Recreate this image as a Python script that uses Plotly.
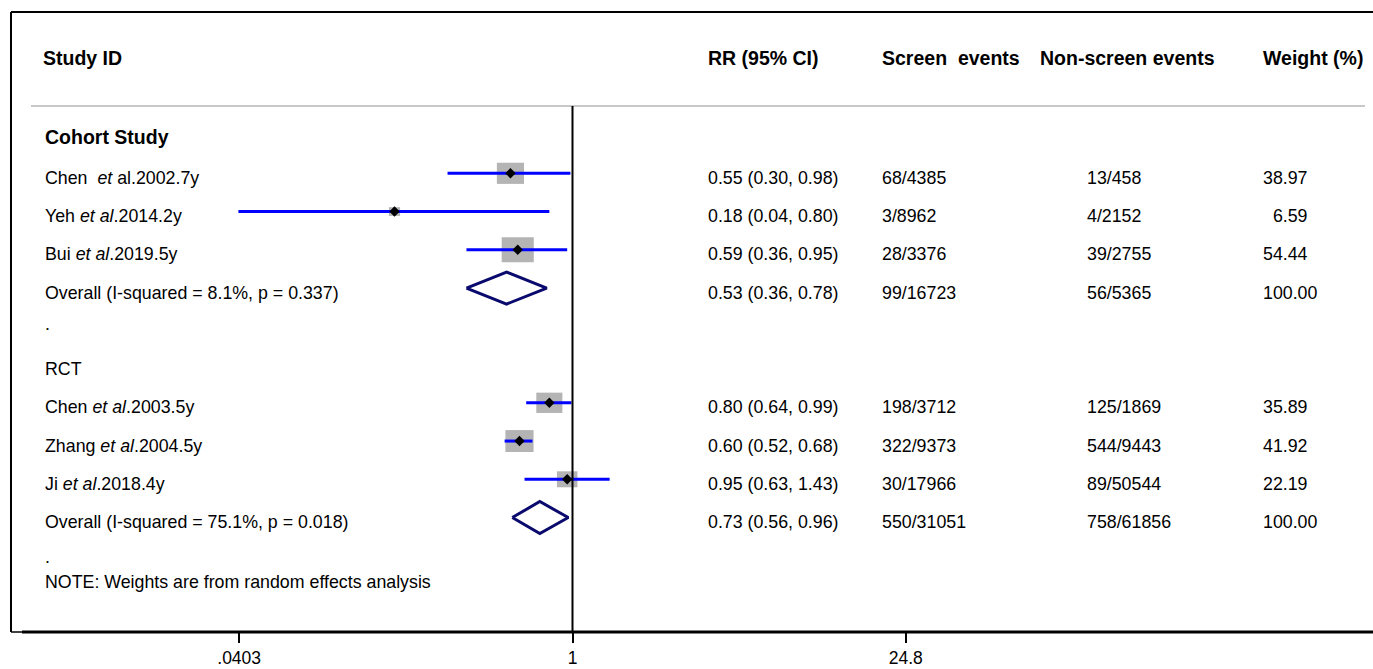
import math
import plotly.graph_objects as go

# ---------------- data ----------------
study_labels = ["Chen\u00a0\u00a0<i>et</i> al.2002.7y", "Yeh <i>et al</i>.2014.2y", "Bui <i>et al</i>.2019.5y",
                "Chen <i>et al</i>.2003.5y", "Zhang <i>et al</i>.2004.5y", "Ji <i>et al</i>.2018.4y"]
study_rr = [0.55, 0.18, 0.59, 0.80, 0.60, 0.95]
study_lo = [0.30, 0.04, 0.36, 0.64, 0.52, 0.63]
study_hi = [0.98, 0.80, 0.95, 0.99, 0.68, 1.43]
study_weight = [38.97, 6.59, 54.44, 35.89, 41.92, 22.19]
study_screen = ["68/4385", "3/8962", "28/3376", "198/3712", "322/9373", "30/17966"]
study_nonscreen = ["13/458", "4/2152", "39/2755", "125/1869", "544/9443", "89/50544"]
study_rows = [1, 2, 3, 7, 8, 9]

overall_labels = ["Overall (I-squared = 8.1%, p = 0.337)", "Overall (I-squared = 75.1%, p = 0.018)"]
overall_rr = [0.53, 0.73]
overall_lo = [0.36, 0.56]
overall_hi = [0.78, 0.96]
overall_screen = ["99/16723", "550/31051"]
overall_nonscreen = ["56/5365", "758/61856"]
overall_weight = ["100.00", "100.00"]
overall_rows = [4, 10]

group_labels = ["<b>Cohort Study</b>", "RCT"]
group_rows = [-0.07, 6]

tick_vals = [0.0403, 1, 24.8]
tick_text = [".0403", "1", "24.8"]

headers = ["<b>Study ID</b>", "<b>RR (95% CI)</b>", "<b>Screen\u00a0\u00a0events</b>",
           "<b>Non-screen events</b>", "<b>Weight (%)</b>"]

# ---------------- layout geometry ----------------
W, H = 1373, 669
ML, MR, MT, MB = 11, 0, 12, 37
PW = W - ML - MR
PH = H - MT - MB
PPD = 239.0          # px per decade on the log axis
X1PX = 572.5         # pixel position of RR = 1
ROWPX = 38.25        # pixels per row
ROW0PX = 135.05      # pixel y of row 0
xr = [(ML - X1PX) / PPD, (W - MR - X1PX) / PPD]
ytop = (MT - ROW0PX) / ROWPX
ybot = ytop + PH / ROWPX

def px(xpix):
    return (xpix - ML) / PW

FONT = "Liberation Sans, Arial, Helvetica, sans-serif"
FS = 17.8
FSB = 19.5
SHIFT = -4.5
XADJ = -2

fig = go.Figure()

# weight boxes
for r, w, row in zip(study_rr, study_weight, study_rows):
    hw = 4.35 * math.sqrt(w) / 2
    hh = 0.78 * hw
    x0 = r * 10 ** (-hw / PPD)
    x1 = r * 10 ** (hw / PPD)
    y0 = row - hh / ROWPX
    y1 = row + hh / ROWPX
    fig.add_trace(go.Scatter(x=[x0, x1, x1, x0, x0], y=[y0, y0, y1, y1, y0], mode="lines",
                             fill="toself", fillcolor="rgb(180,180,180)", line=dict(width=0),
                             hoverinfo="skip", showlegend=False))

# CI lines
cx, cy = [], []
for lo, hi, row in zip(study_lo, study_hi, study_rows):
    cx += [lo, hi, None]
    cy += [row, row, None]
fig.add_trace(go.Scatter(x=cx, y=cy, mode="lines", line=dict(color="rgb(0,0,255)", width=3),
                         hoverinfo="skip", showlegend=False))

# point estimates
fig.add_trace(go.Scatter(x=study_rr, y=study_rows, mode="markers",
                         marker=dict(symbol="diamond", color="black", size=8, line=dict(width=0)),
                         showlegend=False))

# overall diamonds
DH = 16 / ROWPX
for r, lo, hi, row in zip(overall_rr, overall_lo, overall_hi, overall_rows):
    fig.add_trace(go.Scatter(x=[lo, r, hi, r, lo], y=[row, row - DH, row, row + DH, row], mode="lines",
                             line=dict(color="rgb(10,10,110)", width=3), hoverinfo="skip",
                             showlegend=False))

ann = []
def text(xpix, y, t, size=FS, shift=SHIFT):
    ann.append(dict(x=px(xpix + XADJ), xref="paper", y=y, yref="y", text=t, showarrow=False,
                    xanchor="left", yanchor="middle", yshift=shift,
                    font=dict(family=FONT, size=size, color="black")))

# headers
hy = -2.124
text(43, hy, headers[0], FSB)
text(708, hy, headers[1], FSB)
text(882, hy, headers[2], FSB)
text(1040, hy, headers[3], FSB)
text(1263, hy, headers[4], FSB)

# group labels
text(45, group_rows[0], group_labels[0], FSB)
text(45, group_rows[1], group_labels[1])

# study rows
for lab, r, lo, hi, w, s, n, row in zip(study_labels, study_rr, study_lo, study_hi, study_weight,
                                        study_screen, study_nonscreen, study_rows):
    text(45, row, lab)
    text(708, row, f"{r:.2f} ({lo:.2f}, {hi:.2f})")
    text(882, row, s)
    text(1087, row, n)
    ws = f"{w:.2f}"
    if w < 10:
        ws = "\u00a0\u00a0" + ws
    text(1263, row, ws)

for lab, r, lo, hi, s, n, w, row in zip(overall_labels, overall_rr, overall_lo, overall_hi,
                                        overall_screen, overall_nonscreen, overall_weight, overall_rows):
    text(45, row, lab)
    text(708, row, f"{r:.2f} ({lo:.2f}, {hi:.2f})")
    text(882, row, s)
    text(1087, row, n)
    text(1263, row, w)

text(45, 4.82, ".")
text(45, 10.91, ".")
text(45, 11.57, "NOTE: Weights are from random effects analysis")

shapes = [
    # frame left and top
    dict(type="line", xref="paper", yref="paper", x0=0, x1=0, y0=0, y1=1, line=dict(color="black", width=2)),
    dict(type="line", xref="paper", yref="paper", x0=0, x1=1, y0=1, y1=1, line=dict(color="black", width=2)),
    dict(type="line", xref="paper", yref="paper", x0=0, x1=px(22), y0=0, y1=0, line=dict(color="black", width=1.5)),
    # axis line
    dict(type="line", xref="paper", yref="paper", x0=px(22), x1=1, y0=0, y1=0, line=dict(color="black", width=3)),
    # header separator
    dict(type="line", xref="paper", yref="y", x0=px(31), x1=px(1365), y0=-0.76, y1=-0.76,
         line=dict(color="rgb(200,200,200)", width=2)),
    # null line
    dict(type="line", xref="x", yref="y", x0=1, x1=1, y0=-0.76, y1=ybot, line=dict(color="black", width=2),
         layer="above"),
]

fig.update_layout(
    width=W, height=H, margin=dict(l=ML, r=MR, t=MT, b=MB),
    paper_bgcolor="white", plot_bgcolor="white",
    xaxis=dict(type="log", range=xr, tickvals=tick_vals, ticktext=tick_text, ticks="outside",
               ticklen=10, tickwidth=2, tickcolor="black", showgrid=False, zeroline=False, showline=False,
               tickfont=dict(family=FONT, size=17.5, color="black"), fixedrange=True),
    yaxis=dict(range=[ybot, ytop], showgrid=False, zeroline=False, showline=False, showticklabels=False,
               ticks="", fixedrange=True),
    annotations=ann, shapes=shapes, showlegend=False,
)

fig.write_html("out.html", config={"displayModeBar": False},
               post_script="document.body.style.margin='0';document.body.style.overflow='hidden';")
